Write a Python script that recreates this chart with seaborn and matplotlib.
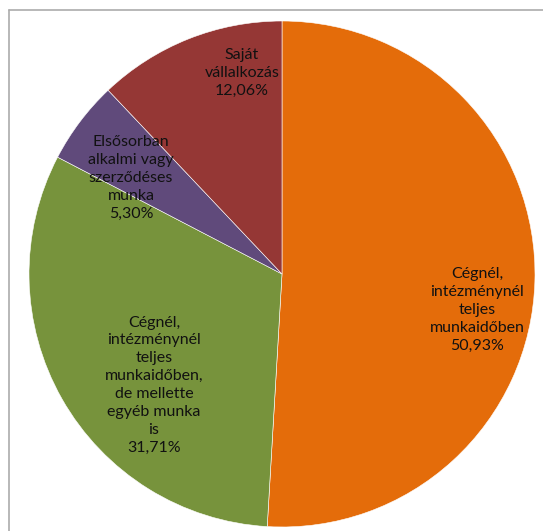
import matplotlib
matplotlib.use("Agg")
import matplotlib.pyplot as plt
import seaborn as sns
from matplotlib.lines import Line2D

# ---- data ----
categories = [
    "Cégnél,\nintézménynél\nteljes\nmunkaidőben",
    "Cégnél,\nintézménynél\nteljes\nmunkaidőben,\nde mellette\negyéb munka\nis",
    "Elsősorban\nalkalmi vagy\nszerződéses\nmunka",
    "Saját\nvállalkozás",
]
values = [50.93, 31.71, 5.30, 12.06]
value_labels = ["50,93%", "31,71%", "5,30%", "12,06%"]

# ---- style ----
colors = ["#E46C0A", "#77933C", "#604A7B", "#953735"]
label_pos = [(0.771, -0.142), (-0.506, -0.439), (-0.597, 0.379), (-0.158, 0.794)]

sns.set_theme(style="white")
plt.rcParams["font.family"] = ["Lato", "DejaVu Sans"]

W, H = 543, 531
fig = plt.figure(figsize=(W / 100, H / 100), dpi=100)
cx, cy, r = 282, 274, 253
ax = fig.add_axes([(cx - r) / W, (H - cy - r) / H, 2 * r / W, 2 * r / H])

wedges, _ = ax.pie(values, colors=colors, startangle=90, counterclock=False,
                   radius=1, wedgeprops=dict(edgecolor="white", linewidth=0.4))
ax.set_xlim(-1, 1)
ax.set_ylim(-1, 1)
ax.set_aspect("auto")
ax.axis("off")

for cat, vl, (x, y) in zip(categories, value_labels, label_pos):
    ax.text(x, y, cat + "\n" + vl, ha="center", va="center", fontsize=11.5,
            color="#111111", linespacing=1.35)

# frame (partially visible chart border)
fx = 8.5 / W
fy = 1 - 9.5 / H
fig.add_artist(Line2D([fx, fx], [0, fy], transform=fig.transFigure,
                      color="#ABABAB", linewidth=1.2))
fig.add_artist(Line2D([fx, 1], [fy, fy], transform=fig.transFigure,
                      color="#ABABAB", linewidth=1.2))

fig.savefig("out.png", dpi=100, facecolor="white")
